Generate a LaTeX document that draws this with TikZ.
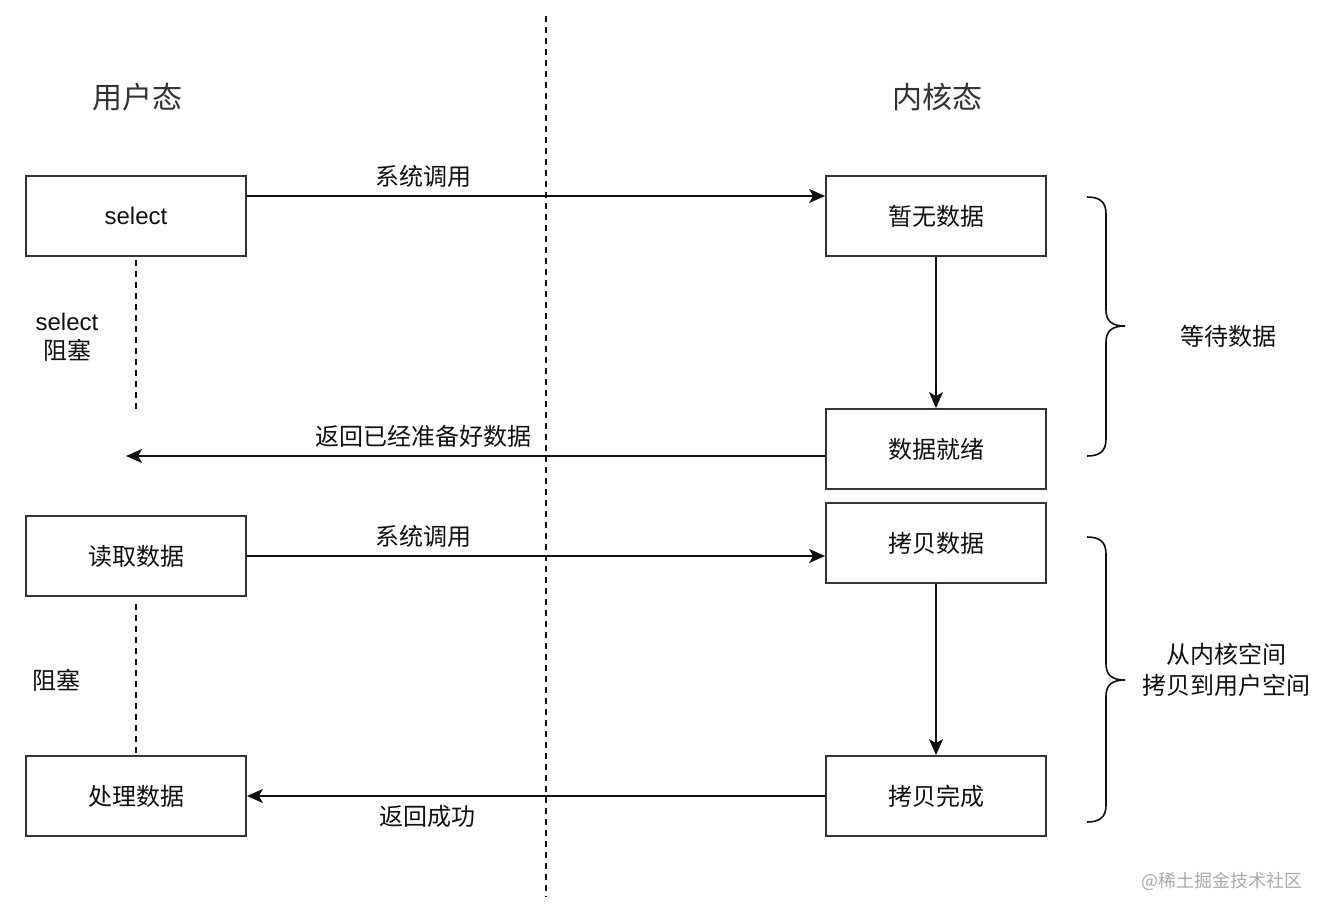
\documentclass[tikz,border=0pt]{standalone}
\usepackage{fontspec}
\setmainfont{Noto Sans CJK SC}
\newfontfamily\lat{Liberation Sans}
\usetikzlibrary{arrows.meta}
\definecolor{ink}{HTML}{111111}
\definecolor{title}{HTML}{333333}
\definecolor{wm}{HTML}{AAAAAA}
\tikzset{
  box/.style={draw=ink!85, line width=1.8pt, minimum width=220pt, minimum height=80pt, inner sep=0pt, font=\fontsize{24}{28}\selectfont, text=ink},
  conn/.style={draw=ink, line width=1.6pt, -{Stealth[length=16pt,width=14pt,inset=4pt]}},
  lbl/.style={font=\fontsize{24}{28}\selectfont, text=ink, inner sep=0pt, align=center},
  ttl/.style={font=\fontsize{30}{34}\selectfont, text=title, inner sep=0pt},
  vdash/.style={draw=ink, line width=1.6pt, dash pattern=on 6pt off 5pt},
  brace/.style={draw=ink, line width=1.6pt}
}
\begin{document}
\begin{tikzpicture}[x=1pt,y=-1pt]
\useasboundingbox[fill=white] (0,0) rectangle (1327,916);
% center divider
\coordinate (divtop) at (546,16);
\coordinate (divbot) at (546,897);
\draw[vdash] (divtop) -- (divbot);
% titles
\node[ttl] (tuser) at (137,97) {用户态};
\node[ttl] (tkern) at (937,97) {内核态};
% boxes
\node[box] (sel) at (136,216) {\lat select};
\node[box] (nodata) at (936,216) {暂无数据};
\node[box] (ready) at (936,449) {数据就绪};
\node[box] (read) at (136,556) {读取数据};
\node[box] (copy) at (936,543) {拷贝数据};
\node[box] (proc) at (136,796) {处理数据};
\node[box] (done) at (936,796) {拷贝完成};
% connectors
\draw[conn] (sel.east |- 0,196) -- (nodata.west |- 0,196);
\node[lbl] (l1) at (423,176) {系统调用};
\draw[conn] (nodata) -- (ready);
\coordinate (retend) at (126,456);
\draw[conn] (ready.west |- retend) -- (retend);
\node[lbl] (l2) at (423,436) {返回已经准备好数据};
\draw[conn] (read.east) -- (read.east -| copy.west);
\node[lbl] (l3) at (423,536) {系统调用};
\draw[conn] (copy) -- (done);
\draw[conn] (done) -- (proc);
\node[lbl] (l4) at (427,816) {返回成功};
% blocking dashes
\coordinate (b1end) at (136,410);
\draw[vdash] ([yshift=-3pt]sel.south) -- (b1end);
\node[lbl, font=\fontsize{24}{29}\selectfont] (bl1) at (67,337) {{\lat select}\\阻塞};
\coordinate (b2start) at (136,604);
\draw[vdash] (b2start) -- (proc.north);
\node[lbl] (bl2) at (56,680) {阻塞};
% braces
\draw[brace] (1087,197) .. controls (1100,197) and (1106,202) .. (1106,214) -- (1106,310) .. controls (1106,321) and (1112,326) .. (1125,326)
  .. controls (1112,326) and (1106,331) .. (1106,342) -- (1106,439) .. controls (1106,451) and (1100,456) .. (1087,456);
\node[lbl] (w1) at (1228,336) {等待数据};
\draw[brace] (1087,537) .. controls (1100,537) and (1106,542) .. (1106,554) -- (1106,664) .. controls (1106,675) and (1112,680) .. (1125,680)
  .. controls (1112,680) and (1106,685) .. (1106,696) -- (1106,805) .. controls (1106,817) and (1100,822) .. (1087,822);
\node[lbl, font=\fontsize{24}{31}\selectfont] (w2) at (1226,670) {从内核空间\\拷贝到用户空间};
% watermark
\node[font=\fontsize{18}{21}\selectfont, text=wm, inner sep=0pt] (wmk) at (1222,881) {@稀土掘金技术社区};
\end{tikzpicture}
\end{document}
